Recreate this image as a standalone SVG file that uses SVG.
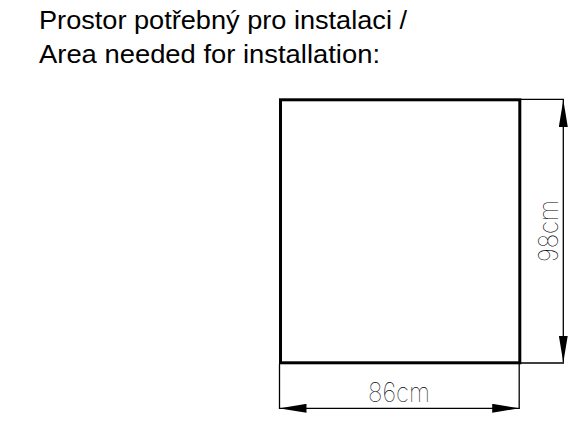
<svg xmlns="http://www.w3.org/2000/svg" width="581" height="434" viewBox="0 0 581 434">
<style>
.title{font-family:"Liberation Sans",Arial,sans-serif;font-size:26px;fill:#000}
.dim{font-family:Inter,Roboto,"DejaVu Sans",sans-serif;font-weight:100;font-size:27.5px;fill:#000}
.thin{stroke:#000;stroke-width:1.3;fill:none}
</style>
<defs>
<marker id="ah" viewBox="0 0 27 9" refX="27" refY="4.5" markerWidth="27" markerHeight="9" markerUnits="userSpaceOnUse" orient="auto-start-reverse">
<path d="M0,0 L27,4.5 L0,9 Z" fill="#000"/>
</marker>
</defs>
<rect width="581" height="434" fill="#fff"/>
<g id="title">
<text class="title" x="39" y="29.3" textLength="368" lengthAdjust="spacingAndGlyphs">Prostor potřebný pro instalaci /</text>
<text class="title" x="39" y="62.7" textLength="341" lengthAdjust="spacingAndGlyphs">Area needed for installation:</text>
</g>
<g id="area">
<rect x="280.5" y="99.8" width="239.3" height="263" fill="none" stroke="#000" stroke-width="3"/>
</g>
<g id="connectors">
<line class="thin" x1="521" y1="99.3" x2="564" y2="99.3"/>
<line class="thin" x1="521" y1="363" x2="564" y2="363"/>
<line class="thin" x1="563.3" y1="100" x2="563.3" y2="362.5" marker-start="url(#ah)" marker-end="url(#ah)"/>
<line class="thin" x1="279.5" y1="364" x2="279.5" y2="409"/>
<line class="thin" x1="519.2" y1="364" x2="519.2" y2="409"/>
<line class="thin" x1="279.5" y1="408.3" x2="519.2" y2="408.3" marker-start="url(#ah)" marker-end="url(#ah)"/>
</g>
<g id="labels">
<text class="dim" x="399" y="401.7" text-anchor="middle" textLength="62" lengthAdjust="spacingAndGlyphs">86cm</text>
<text class="dim" transform="translate(557.5,231) rotate(-90)" x="0" y="0" text-anchor="middle" textLength="62" lengthAdjust="spacingAndGlyphs">98cm</text>
</g>
</svg>
